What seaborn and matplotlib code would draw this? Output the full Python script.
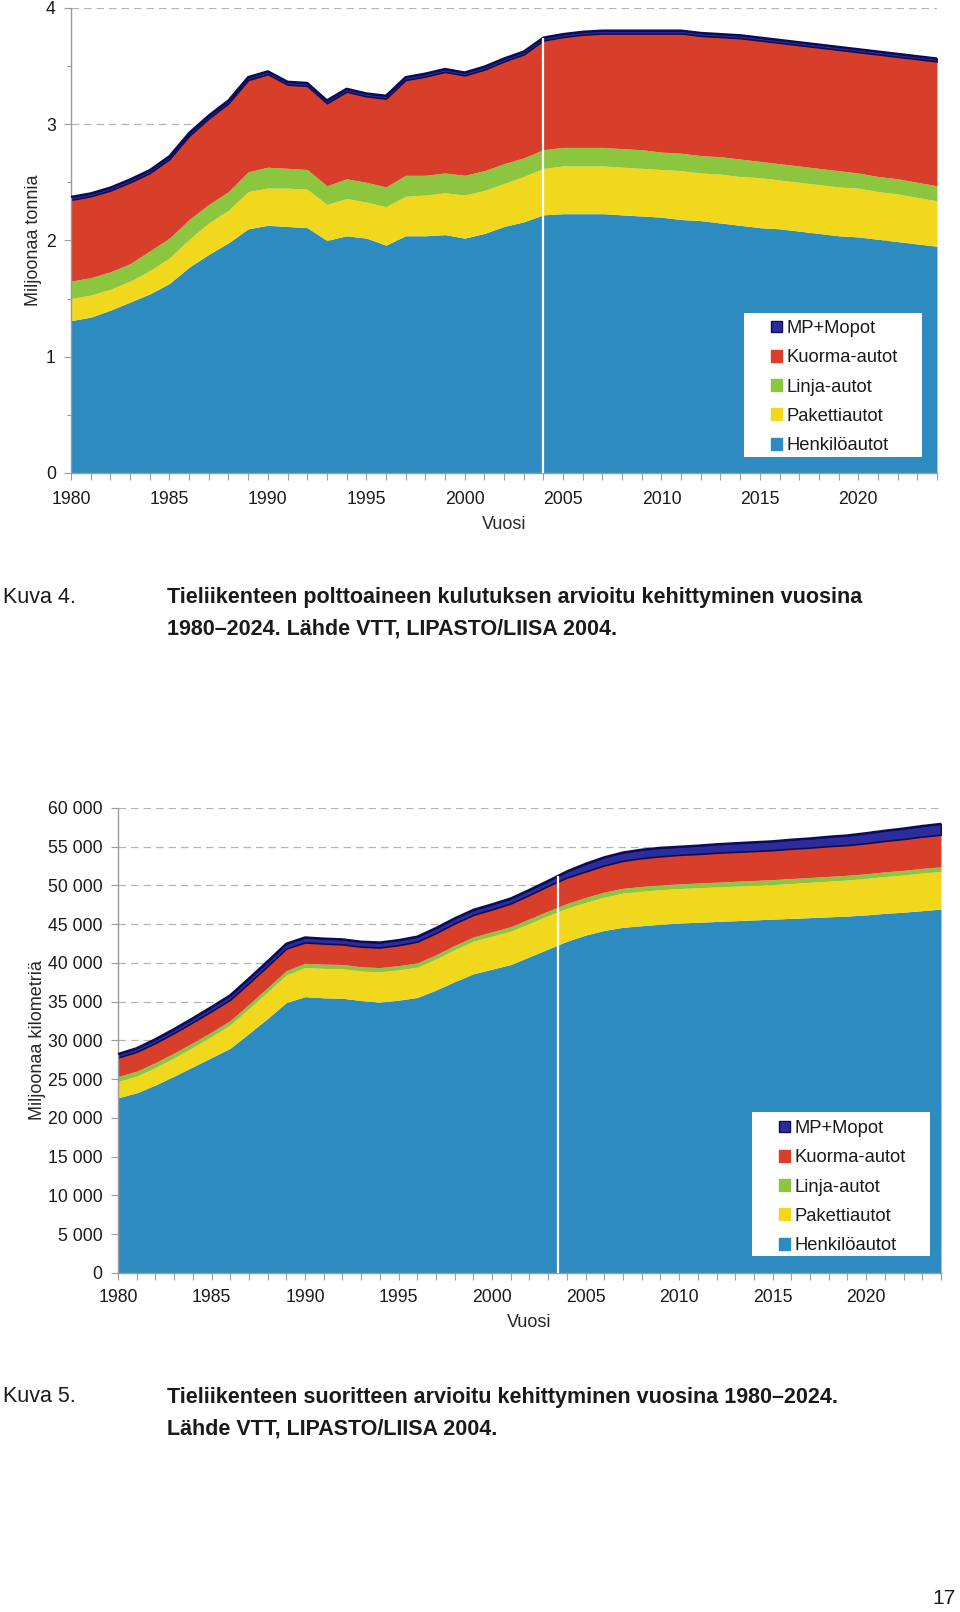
import numpy as np
import pandas as pd
import matplotlib
matplotlib.use("Agg")
import matplotlib.pyplot as plt
import matplotlib.ticker as mticker
from matplotlib.patches import Patch, Rectangle
import seaborn as sns

# --- data -------------------------------------------------------------
years = list(range(1980, 2025))
series = ["Henkilöautot", "Pakettiautot", "Linja-autot", "Kuorma-autot", "MP+Mopot"]
colors = ["#2e8bc0", "#f2d81c", "#8cc63f", "#d83f2a", "#2c2c9c"]
mp_edge = "#0c0c58"

# Kuva 4: fuel consumption, million tonnes
fuel_henkilo = [1.31, 1.34, 1.40, 1.47, 1.54, 1.63, 1.77, 1.88, 1.98, 2.10,
                2.13, 2.12, 2.11, 2.00, 2.04, 2.02, 1.96, 2.04, 2.04, 2.05,
                2.02, 2.06, 2.12, 2.16, 2.22, 2.23, 2.23, 2.23, 2.22, 2.21,
                2.20, 2.18, 2.17, 2.15, 2.13, 2.11, 2.10, 2.08, 2.06, 2.04,
                2.03, 2.01, 1.99, 1.97, 1.95]
fuel_paketti = [0.19, 0.19, 0.18, 0.18, 0.20, 0.22, 0.24, 0.27, 0.28, 0.32,
                0.32, 0.33, 0.33, 0.31, 0.32, 0.31, 0.33, 0.34, 0.35, 0.36,
                0.37, 0.37, 0.37, 0.39, 0.40, 0.41, 0.41, 0.41, 0.41, 0.41,
                0.41, 0.42, 0.41, 0.42, 0.42, 0.43, 0.42, 0.42, 0.42, 0.42,
                0.42, 0.41, 0.41, 0.40, 0.39]
fuel_linja = [0.15, 0.15, 0.15, 0.15, 0.17, 0.17, 0.17, 0.16, 0.16, 0.17,
              0.18, 0.17, 0.17, 0.16, 0.17, 0.17, 0.17, 0.18, 0.17, 0.17,
              0.17, 0.17, 0.17, 0.16, 0.16, 0.16, 0.16, 0.16, 0.16, 0.16,
              0.15, 0.15, 0.15, 0.15, 0.15, 0.14, 0.14, 0.14, 0.14, 0.14,
              0.13, 0.13, 0.13, 0.13, 0.13]
fuel_kuorma = [0.70, 0.70, 0.70, 0.70, 0.67, 0.68, 0.72, 0.74, 0.76, 0.79,
               0.80, 0.72, 0.72, 0.71, 0.75, 0.74, 0.76, 0.82, 0.85, 0.87,
               0.86, 0.87, 0.88, 0.89, 0.94, 0.95, 0.97, 0.98, 0.99, 1.00,
               1.02, 1.03, 1.03, 1.03, 1.04, 1.04, 1.04, 1.04, 1.04, 1.04,
               1.04, 1.05, 1.05, 1.06, 1.07]
fuel_mp = [0.025] * 45
fuel_split_year = 2004

# Kuva 5: traffic volume, million km
km_henkilo = [22600, 23250, 24250, 25400, 26600, 27800, 29000, 30900, 32850, 34900,
              35650, 35500, 35450, 35150, 34950, 35200, 35550, 36500, 37600, 38600,
              39200, 39800, 40800, 41800, 42800, 43600, 44200, 44600, 44800, 45000,
              45150, 45250, 45350, 45450, 45550, 45650, 45750, 45850, 45950, 46050,
              46200, 46400, 46550, 46750, 46950]
km_paketti = [2100, 2150, 2250, 2350, 2500, 2700, 3000, 3200, 3400, 3550,
              3750, 3800, 3800, 3800, 3900, 3900, 3900, 4000, 4100, 4200,
              4250, 4300, 4300, 4300, 4250, 4200, 4300, 4400, 4450, 4450,
              4450, 4450, 4450, 4450, 4450, 4450, 4500, 4550, 4600, 4650,
              4700, 4750, 4800, 4850, 4850]
km_linja = [650, 640, 630, 620, 600, 580, 570, 560, 560, 560,
            550, 550, 550, 550, 550, 550, 550, 560, 560, 560,
            570, 580, 590, 600, 620, 650, 640, 630, 620, 610,
            600, 610, 620, 630, 640, 650, 640, 630, 620, 610,
            600, 600, 600, 600, 600]
km_kuorma = [2450, 2500, 2550, 2600, 2650, 2700, 2700, 2750, 2800, 2850,
             2700, 2650, 2600, 2600, 2600, 2650, 2750, 2800, 2850, 2850,
             2900, 3000, 3100, 3250, 3350, 3350, 3450, 3550, 3650, 3700,
             3750, 3750, 3800, 3800, 3800, 3800, 3850, 3850, 3900, 3900,
             3950, 4000, 4050, 4100, 4150]
km_mp = [450, 470, 490, 510, 530, 550, 570, 590, 610, 630,
         650, 650, 650, 650, 650, 650, 650, 650, 650, 650,
         650, 650, 650, 650, 800, 1000, 1050, 1080, 1100, 1100,
         1050, 1080, 1100, 1120, 1140, 1150, 1170, 1190, 1220, 1250,
         1300, 1320, 1350, 1380, 1400]
km_split_year = 2003.5

df_fuel = pd.DataFrame(dict(zip(series, [fuel_henkilo, fuel_paketti, fuel_linja,
                                         fuel_kuorma, fuel_mp])), index=years)
df_km = pd.DataFrame(dict(zip(series, [km_henkilo, km_paketti, km_linja,
                                       km_kuorma, km_mp])), index=years)

# --- style ------------------------------------------------------------
sns.set_theme(style="white")
plt.rcParams["font.family"] = ["Liberation Sans", "DejaVu Sans"]
plt.rcParams["text.color"] = "#1a1a1a"

fig = plt.figure(figsize=(9.6, 16.12), dpi=100)
tick_size = 12.7
label_size = 13


def draw_chart(ax, df, split_year, ylim, ystep, ylabel, fmt, box, leg_anchor,
               xpad, minor=None):
    polys = ax.stackplot(df.index, *[df[c].values for c in series],
                         colors=colors, linewidth=0, zorder=2)
    polys[-1].set_edgecolor(mp_edge)
    polys[-1].set_linewidth(1.2)
    total = df.sum(axis=1)
    sns.lineplot(x=df.index, y=total.values, color=mp_edge, lw=1.6, ax=ax, zorder=3)
    # white separator between history and forecast
    ax.vlines(split_year, 0, np.interp(split_year, df.index, total.values),
              color="white", lw=1.6, zorder=4)

    ax.set_xlim(df.index[0], df.index[-1])
    ax.set_ylim(*ylim)
    ax.set_xticks(range(1980, 2025, 5))
    ax.xaxis.set_minor_locator(mticker.MultipleLocator(1))
    ax.yaxis.set_major_locator(mticker.MultipleLocator(ystep))
    ax.yaxis.set_major_formatter(mticker.FuncFormatter(fmt))
    if minor:
        ax.yaxis.set_minor_locator(mticker.MultipleLocator(minor))
    ax.yaxis.grid(True, linestyle=(0, (6, 4)), color="#b5b5b5", lw=0.9, zorder=0)
    ax.set_axisbelow(True)

    sns.despine(ax=ax)
    for s in ("left", "bottom"):
        ax.spines[s].set_color("#9a9a9a")
        ax.spines[s].set_linewidth(1.0)
    ax.tick_params(axis="both", which="both", direction="out", color="#9a9a9a",
                   labelsize=tick_size, labelcolor="#1a1a1a")
    ax.tick_params(axis="x", which="both", length=5, width=0.8, pad=xpad, bottom=True)
    ax.tick_params(axis="y", which="major", length=5, width=0.8, pad=6, left=True)
    ax.tick_params(axis="y", which="minor", length=3, width=0.8, left=True)

    ax.set_xlabel("Vuosi", fontsize=label_size)
    ax.set_ylabel(ylabel, fontsize=label_size)

    ax.add_patch(Rectangle((box[0], box[1]), box[2] - box[0], box[3] - box[1],
                           transform=ax.transAxes, facecolor="white",
                           edgecolor="none", zorder=5))
    handles = [Patch(facecolor=colors[i],
                     edgecolor=mp_edge if i == 4 else colors[i], lw=1.0)
               for i in range(4, -1, -1)]
    leg = ax.legend(handles, series[::-1], loc="upper left",
                    bbox_to_anchor=leg_anchor, frameon=False, fontsize=13.2,
                    handlelength=0.62, handleheight=0.62, handletextpad=0.25,
                    labelspacing=0.67, borderpad=0, borderaxespad=0)
    leg.set_zorder(6)
    return ax


# top chart
ax1 = fig.add_axes([0.0740, 0.7066, 0.902, 0.2885])
draw_chart(ax1, df_fuel, fuel_split_year, (0, 4), 1, "Miljoonaa tonnia",
           lambda v, p: f"{v:.0f}",
           box=(0.777, 0.034, 0.983, 0.344), leg_anchor=(0.808, 0.329),
           xpad=8, minor=0.5)
ax1.yaxis.set_label_coords(-0.033, 0.5)
ax1.xaxis.set_label_coords(0.5, -0.092)

# bottom chart
ax2 = fig.add_axes([0.1229, 0.2103, 0.8573, 0.2885])
draw_chart(ax2, df_km, km_split_year, (0, 60000), 5000, "Miljoonaa kilometriä",
           lambda v, p: f"{v:,.0f}".replace(",", " "),
           box=(0.770, 0.037, 0.987, 0.346), leg_anchor=(0.803, 0.329),
           xpad=6.5)
ax2.yaxis.set_label_coords(-0.088, 0.5)
ax2.xaxis.set_label_coords(0.5, -0.088)

# captions
cap_size = 15.5
fig.text(3 / 960, 1 - 597 / 1612, "Kuva 4.", fontsize=cap_size, va="center")
fig.text(167 / 960, 1 - 597 / 1612,
         "Tieliikenteen polttoaineen kulutuksen arvioitu kehittyminen vuosina",
         fontsize=cap_size, fontweight="bold", va="center")
fig.text(167 / 960, 1 - 629 / 1612, "1980–2024. Lähde VTT, LIPASTO/LIISA 2004.",
         fontsize=cap_size, fontweight="bold", va="center")

fig.text(3 / 960, 1 - 1397 / 1612, "Kuva 5.", fontsize=cap_size, va="center")
fig.text(167 / 960, 1 - 1397 / 1612,
         "Tieliikenteen suoritteen arvioitu kehittyminen vuosina 1980–2024.",
         fontsize=cap_size, fontweight="bold", va="center")
fig.text(167 / 960, 1 - 1429 / 1612, "Lähde VTT, LIPASTO/LIISA 2004.",
         fontsize=cap_size, fontweight="bold", va="center")

fig.text(956 / 960, 1 - 1599 / 1612, "17", fontsize=15, ha="right", va="center")

fig.savefig("out.png", dpi=100)
plt.close(fig)
